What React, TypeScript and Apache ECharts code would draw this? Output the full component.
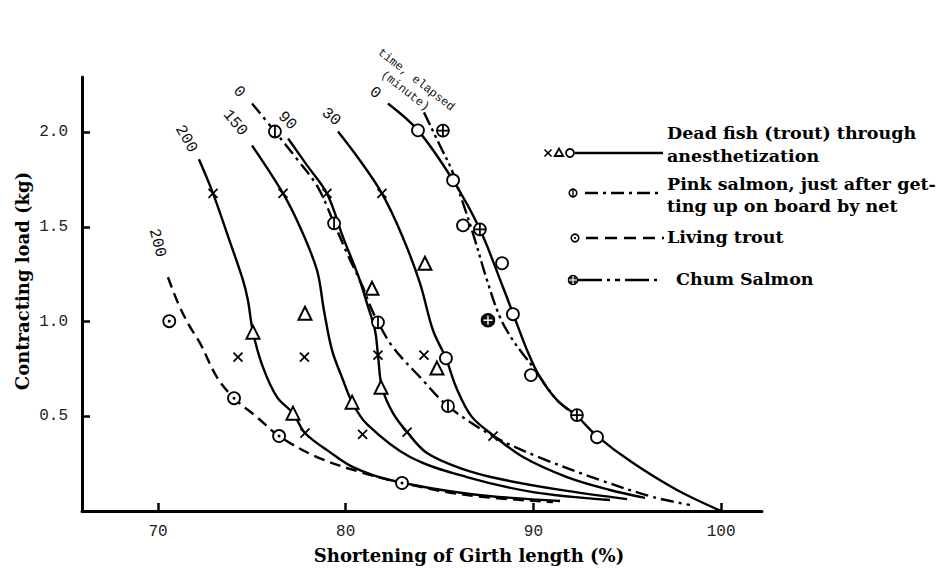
import { useEffect, useRef } from "react";
import * as echarts from "echarts";

// ---------- data ----------
const xTickValues = [70, 80, 90, 100];
const yTickValues = [0.5, 1.0, 1.5, 2.0];

// Dead fish (trout) through anesthetization, curves labelled by elapsed minutes
const dead0Curve = [
  [82.25, 2.153], [83.85, 2.011], [85.72, 1.747], [87.15, 1.488], [88.38, 1.182],
  [88.91, 1.045], [89.66, 0.85], [90.35, 0.707], [91.26, 0.586], [92.32, 0.501],
  [93.39, 0.396], [95.31, 0.253], [97.65, 0.111], [100, 0.0],
];
const dead30Curve = [
  [79.59, 2.005], [80.76, 1.852], [81.93, 1.678], [83.0, 1.456], [83.96, 1.203],
  [84.65, 0.955], [85.34, 0.807], [85.9, 0.65], [86.7, 0.5], [87.85, 0.401],
  [89.45, 0.285], [91.79, 0.179], [94.08, 0.111], [95.95, 0.069],
];
const dead90Curve = [
  [76.93, 1.968], [77.94, 1.826], [79.0, 1.678], [79.86, 1.446], [80.66, 1.245],
  [81.13, 1.098], [81.56, 0.955], [81.72, 0.823], [81.93, 0.654], [82.52, 0.517],
  [83.27, 0.417], [84.33, 0.306], [86.09, 0.227], [88.22, 0.169], [91.79, 0.106],
  [94.99, 0.063],
];
const dead150Curve = [
  [75.01, 1.931], [76.66, 1.678], [77.57, 1.499], [78.47, 1.272], [78.84, 1.061],
  [79.27, 0.85], [79.86, 0.691], [80.34, 0.575], [81.13, 0.459], [83.43, 0.285],
  [86.46, 0.179], [89.98, 0.1], [94.08, 0.058],
];
const dead200Curve = [
  [72.18, 1.858], [72.93, 1.678], [73.73, 1.451], [74.53, 1.219], [74.79, 1.113],
  [75.06, 0.945], [75.59, 0.76], [76.34, 0.602], [77.19, 0.517], [77.83, 0.412],
  [79.16, 0.311], [80.39, 0.232], [82.36, 0.164], [86.62, 0.09], [91.42, 0.053],
];
// Pink salmon, just after getting up on board by net
const pinkCurve = [
  [75.01, 2.153], [76.23, 2.005], [77.46, 1.852], [78.52, 1.71], [79.38, 1.52],
  [80.12, 1.351], [80.92, 1.182], [81.29, 1.087], [81.72, 0.997], [82.52, 0.865],
  [83.96, 0.707], [85.45, 0.554], [87.85, 0.396], [90.35, 0.282], [93.55, 0.164],
  [96.37, 0.074], [98.34, 0.032],
];
// Living trout
const livingCurve = [
  [70.53, 1.235], [71.07, 1.098], [71.65, 0.982], [72.24, 0.887], [73.14, 0.707],
  [74.05, 0.596], [75.27, 0.496], [76.45, 0.396], [78.47, 0.285], [80.76, 0.206],
  [83.0, 0.148], [86.46, 0.084], [91.04, 0.047],
];
// Chum salmon
const chumCurve = [
  [84.17, 2.106], [85.02, 1.931], [85.66, 1.799], [86.2, 1.641], [86.78, 1.467],
  [87.53, 1.219], [88.22, 1.024], [88.91, 0.902], [89.98, 0.76], [91.26, 0.586],
  [92.32, 0.501],
];

// measured points
const deadCrossPoints = [
  [72.93, 1.678], [76.66, 1.678], [79.0, 1.678], [81.93, 1.678],
  [74.26, 0.813], [77.8, 0.813], [81.72, 0.823], [84.17, 0.823],
  [77.83, 0.412], [80.9, 0.405], [83.27, 0.417], [87.85, 0.396],
];
const deadTrianglePoints = [
  [75.06, 0.945], [77.83, 1.045], [81.4, 1.177], [84.22, 1.309],
  [77.19, 0.517], [80.34, 0.575], [81.88, 0.654], [84.86, 0.755],
];
const deadCirclePoints = [
  [83.85, 2.011], [85.72, 1.747], [86.25, 1.509], [88.33, 1.309], [88.91, 1.04],
  [89.87, 0.718], [93.39, 0.39], [85.34, 0.807],
];
const pinkPoints = [[76.23, 2.005], [79.38, 1.52], [81.72, 0.997], [85.45, 0.554]];
const livingPoints = [[70.6, 1.003], [74.05, 0.596], [76.45, 0.396], [83.0, 0.148]];
const chumPoints = [[85.18, 2.01], [87.15, 1.488], [92.32, 0.507]];
const chumFilledPoints = [[87.58, 1.008]];

// ---------- styling ----------
const INK = "#000";
const CROSS = "path://M0,0L10,10M10,0L0,10";
const CIRCLE_BAR = "path://M10,0A10,10,0,1,1,10,20A10,10,0,1,1,10,0ZM10,0L10,20";
const CIRCLE_PLUS = "path://M10,0A10,10,0,1,1,10,20A10,10,0,1,1,10,0ZM0,10L20,10M10,0L10,20";
const PLUS = "path://M0,10L20,10M10,0L10,20";

const SERIF = "'DejaVu Serif', 'Liberation Serif', serif";
const MONO = "'Liberation Mono', 'DejaVu Sans Mono', monospace";

const DASH_PINK = [13, 5, 3, 5];
const DASH_LIVING = [11, 6];
const DASH_CHUM = [14, 4, 3, 4, 3, 4];

function curve(data: number[][], dash: any) {
  return {
    type: "line",
    data,
    smooth: 0.35,
    symbol: "none",
    silent: true,
    z: 2,
    lineStyle: { color: INK, width: 2.4, type: dash },
  };
}
function marks(data: number[][], symbol: string, size: number, fill: string, stroke: string, bw: number, z = 3) {
  return {
    type: "scatter",
    data,
    symbol,
    symbolSize: size,
    silent: true,
    z,
    itemStyle: { color: fill, borderColor: stroke, borderWidth: bw, opacity: 1 },
  };
}

function label(text: string, x: number, y: number, deg: number, size = 16) {
  return {
    type: "text",
    x,
    y,
    rotation: (-deg * Math.PI) / 180,
    style: {
      text,
      fill: "#111",
      font: `${size}px ${MONO}`,
      align: "center",
      verticalAlign: "middle",
    },
  };
}
function serifText(text: string, x: number, y: number, size = 17.5, align = "left", rot = 0) {
  return {
    type: "text",
    x,
    y,
    rotation: rot,
    style: {
      text,
      fill: INK,
      font: `bold ${size}px ${SERIF}`,
      align,
      verticalAlign: "middle",
    },
  };
}
function seg(x1: number, y1: number, x2: number, y2: number, w = 2.4, dash?: number[], color = INK) {
  return {
    type: "line",
    shape: { x1, y1, x2, y2 },
    style: { stroke: color, lineWidth: w, lineDash: dash },
  };
}

const legendGraphics: any[] = [
  // row 1: x triangle circle, solid
  seg(544.5, 149.5, 551.5, 156.5, 1.6),
  seg(551.5, 149.5, 544.5, 156.5, 1.6),
  { type: "polygon", shape: { points: [[559, 148.5], [554.8, 156], [563.2, 156]] }, style: { fill: "#fff", stroke: INK, lineWidth: 1.8 } },
  { type: "circle", shape: { cx: 570, cy: 153, r: 4 }, style: { fill: "#fff", stroke: INK, lineWidth: 1.8 } },
  seg(575, 153, 663, 153, 2.6),
  serifText("Dead fish (trout) through", 667, 133),
  serifText("anesthetization", 667, 156),
  // row 2: pink salmon
  { type: "circle", shape: { cx: 573, cy: 193, r: 3.8 }, style: { fill: "#fff", stroke: INK, lineWidth: 1.6 } },
  seg(573, 189.2, 573, 196.8, 1.4),
  seg(585, 193, 661, 193, 2.6, DASH_PINK),
  serifText("Pink salmon, just after get-", 667, 184),
  serifText("ting up on board by net", 667, 206),
  // row 3: living trout
  { type: "circle", shape: { cx: 575, cy: 238, r: 3.8 }, style: { fill: "#fff", stroke: INK, lineWidth: 1.6 } },
  { type: "circle", shape: { cx: 575, cy: 238, r: 1.1 }, style: { fill: INK } },
  seg(586, 238, 664, 238, 2.6, [12, 7]),
  serifText("Living trout", 667, 237),
  // row 4: chum salmon
  { type: "circle", shape: { cx: 573, cy: 280, r: 4.6 }, style: { fill: "#222", stroke: INK, lineWidth: 1.4 } },
  seg(569, 280, 577, 280, 1.2, undefined, "#fff"),
  seg(573, 276, 573, 284, 1.2, undefined, "#fff"),
  seg(578, 280, 661, 280, 2.6, [24, 5, 3, 5, 5, 5]),
  serifText("Chum Salmon", 676, 279),
];

const curveLabels: any[] = [
  label("0", 239, 92, 45),
  label("150", 235, 123, 50),
  label("90", 287, 121, 45),
  label("30", 331, 117, 40),
  label("0", 375, 93, 40),
  label("200", 186, 139, 60),
  label("200", 157, 243, 75),
  label("time, elapsed", 416, 80, 38, 12),
  label("(minute)", 405, 91, 38, 12),
];

const axisTitles: any[] = [
  serifText("Shortening of Girth length (%)", 469, 555, 18, "center"),
  serifText("Contracting load (kg)", 22, 281, 18, "center", Math.PI / 2),
];

const option: any = {
  animation: false,
  backgroundColor: "#fff",
  grid: { left: 82, right: 183, top: 77, bottom: 57 },
  xAxis: {
    type: "value",
    min: 65.95,
    max: 102.18,
    axisLine: { show: true, onZero: false, lineStyle: { color: INK, width: 3 } },
    axisTick: { show: true, inside: true, length: 8, customValues: xTickValues, lineStyle: { color: INK, width: 2.5 } },
    axisLabel: { customValues: xTickValues, margin: 13, color: "#222", fontFamily: MONO, fontSize: 16 },
    splitLine: { show: false },
  },
  yAxis: {
    type: "value",
    min: 0,
    max: 2.293,
    axisLine: { show: true, onZero: false, lineStyle: { color: INK, width: 3 } },
    axisTick: { show: true, inside: true, length: 8, customValues: yTickValues, lineStyle: { color: INK, width: 2.5 } },
    axisLabel: {
      customValues: yTickValues,
      margin: 14,
      color: "#222",
      fontFamily: MONO,
      fontSize: 16,
      formatter: (v: number) => v.toFixed(1),
    },
    splitLine: { show: false },
  },
  series: [
    curve(dead0Curve, "solid"),
    curve(dead30Curve, "solid"),
    curve(dead90Curve, "solid"),
    curve(dead150Curve, "solid"),
    curve(dead200Curve, "solid"),
    curve(pinkCurve, DASH_PINK),
    curve(livingCurve, DASH_LIVING),
    curve(chumCurve, DASH_CHUM),
    marks(deadCrossPoints, CROSS, 9, "rgba(0,0,0,0)", INK, 1.8),
    marks(deadTrianglePoints, "triangle", 13, "#fff", INK, 2),
    marks(deadCirclePoints, "circle", 12, "#fff", INK, 1.8),
    marks(pinkPoints, CIRCLE_BAR, 12, "#fff", INK, 1.8),
    marks(livingPoints, "circle", 12, "#fff", INK, 1.8),
    marks(livingPoints, "circle", 3, INK, INK, 0, 4),
    marks(chumPoints, CIRCLE_PLUS, 12, "#fff", INK, 1.8),
    marks(chumFilledPoints, "circle", 13, "#111", INK, 1.5),
    marks(chumFilledPoints, PLUS, 9, "rgba(0,0,0,0)", "#fff", 1.4, 4),
  ],
  graphic: { elements: [...legendGraphics, ...curveLabels, ...axisTitles] },
};

export default function App() {
  const ref = useRef<HTMLDivElement>(null);
  useEffect(() => {
    const chart = echarts.init(ref.current!, null, { renderer: "svg" });
    chart.setOption(option);
    return () => chart.dispose();
  }, []);
  return (
    <div
      ref={ref}
      style={{ position: "fixed", left: 0, top: 0, width: 945, height: 568, background: "#fff" }}
    />
  );
}
